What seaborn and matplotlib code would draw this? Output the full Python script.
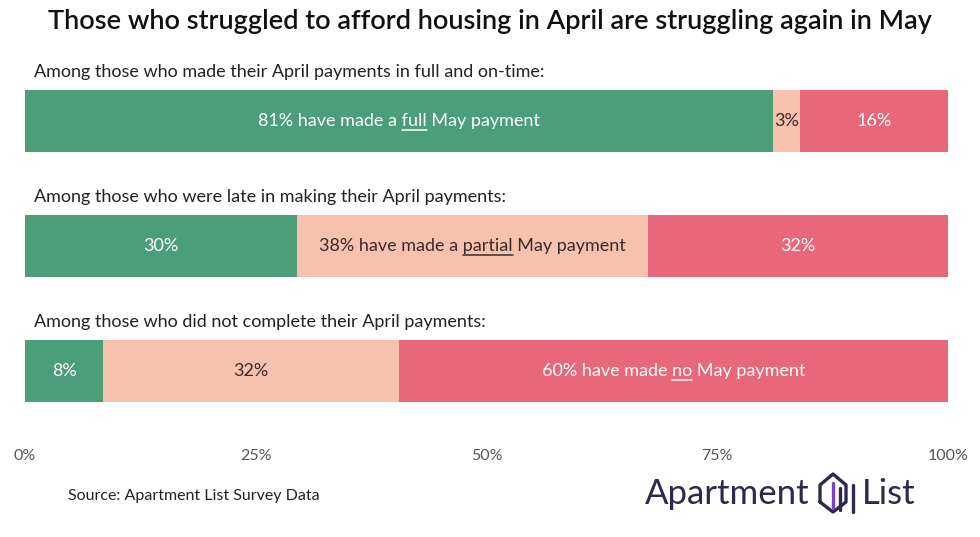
import matplotlib
matplotlib.use("Agg")
import matplotlib.pyplot as plt
import seaborn as sns
import pandas as pd
from matplotlib.lines import Line2D

groups = ["Among those who made their April payments in full and on-time:",
          "Among those who were late in making their April payments:",
          "Among those who did not complete their April payments:"]
full = [81, 29.5, 8.5]
partial = [3, 38, 32]
none_ = [16, 32.5, 59.5]
# (before, underlined word, after)
full_lbl = [("81% have made a ", "full", " May payment"), ("30%", "", ""), ("8%", "", "")]
partial_lbl = [("3%", "", ""), ("38% have made a ", "partial", " May payment"), ("32%", "", "")]
none_lbl = [("16%", "", ""), ("32%", "", ""), ("60% have made ", "no", " May payment")]
ticks = [0, 25, 50, 75, 100]
tick_lbl = ["0%", "25%", "50%", "75%", "100%"]

GREEN, PEACH, RED = "#4a9e78", "#f6c2ad", "#e9677a"
sns.set_theme(style="white", rc={"font.family": "Lato"})

df = pd.DataFrame({"g": range(3), "full": full, "partial": partial, "none": none_})
df["c2"] = df["full"] + df["partial"]
df["c3"] = df["c2"] + df["none"]
df["g"] = df["g"].astype(str)

fig = plt.figure(figsize=(9.8, 5.37), dpi=100)
ax = fig.add_axes([25/980, 1-430/537, 923/980, 360/537])
for col, c in [("c3", RED), ("c2", PEACH), ("full", GREEN)]:
    sns.barplot(data=df, x=col, y="g", color=c, width=0.5, orient="h", ax=ax,
                saturation=1, linewidth=0)
ax.set_xlim(0, 100)
ax.set_ylim(2.472, -0.408)
ax.set_xticks(ticks)
ax.set_xticklabels(tick_lbl, fontsize=11.5, color="#555555")
ax.set_yticks([])
ax.set_xlabel(""); ax.set_ylabel("")
for s in ax.spines.values():
    s.set_visible(False)
ax.tick_params(axis="x", length=0, pad=14)

fig.canvas.draw()
R = fig.canvas.get_renderer()

def width(s, fs):
    t = fig.text(0, 0, s, fontsize=fs)
    w = t.get_window_extent(R).width
    t.remove()
    return w

FS = 13
W, H = 980, 537
for i in range(3):
    l = [0, full[i], full[i] + partial[i]]
    w = [full[i], partial[i], none_[i]]
    labs = [full_lbl[i], partial_lbl[i], none_lbl[i]]
    for k in range(3):
        pre, word, post = labs[k]
        col = "#3a2a2a" if k == 1 else "white"
        s = pre + word + post
        cx = l[k] + w[k] / 2
        t = ax.text(cx, i, s, ha="center", va="center", fontsize=FS, color=col)
        if word:
            bb = t.get_window_extent(R)
            x0 = bb.x0 + width(pre + word, FS) - width(word, FS)
            x1 = x0 + width(word, FS)
            yd = ax.transData.transform((cx, i))[1] - 9
            fig.add_artist(Line2D([x0 / W, x1 / W], [yd / H] * 2, color=col, lw=1.1))
    ax.text(1, i - 0.39, groups[i], ha="left", va="center", fontsize=FS, color="#222222")

fig.text(0.5, 1 - 22/537, "Those who struggled to afford housing in April are struggling again in May",
         ha="center", va="center", fontsize=19.5, color="#111111", weight="semibold")
fig.text(68/980, 1 - 496/537, "Source: Apartment List Survey Data", ha="left", va="center",
         fontsize=11.5, color="#222222")
fig.text(810/W, 1 - 494/H, "Apartment", ha="right", va="center", fontsize=25, color="#2b2a4c")
fig.text(862/W, 1 - 494/H, "List", ha="left", va="center", fontsize=25, color="#2b2a4c")
# icon
def pline(xs, ys, c, lw=2.4):
    fig.add_artist(Line2D([x / W for x in xs], [1 - y / H for y in ys], color=c, lw=lw,
                          solid_capstyle="round", solid_joinstyle="round"))
pline([820, 820, 833, 846, 846, 833, 820], [502, 485, 474, 485, 502, 512, 502], "#2b2a4c")
pline([833, 833], [483, 508], "#7b3fc4")
pline([840, 840], [488, 510], "#2b2a4c")
pline([853, 853], [485, 512], "#2b2a4c")
fig.savefig("out.png", dpi=100)
